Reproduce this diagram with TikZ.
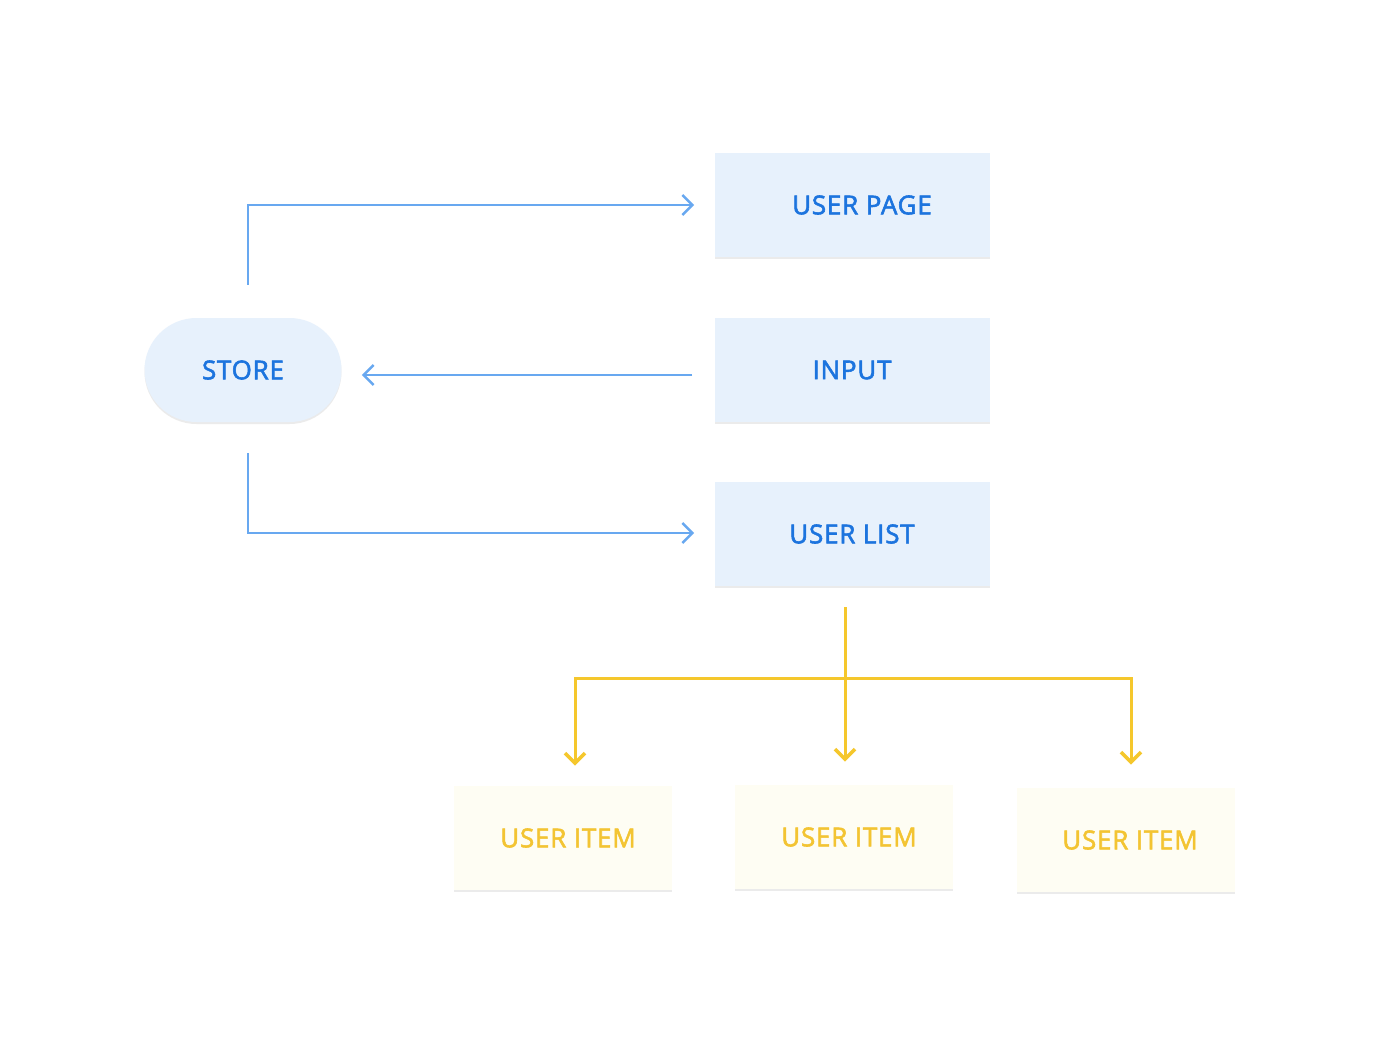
\documentclass[tikz,border=0pt]{standalone}
\usepackage{fontspec}
\setmainfont{Open Sans}
\newfontfamily\boxfont{Open Sans}[FakeBold=2.2, LetterSpace=3]
\usetikzlibrary{arrows.meta, calc, shadows}
\definecolor{boxblue}{HTML}{E7F1FC}
\definecolor{textblue}{HTML}{1C74DE}
\definecolor{lineblue}{HTML}{68A8F0}
\definecolor{boxyellow}{HTML}{FEFDF3}
\definecolor{textyellow}{HTML}{F3C432}
\definecolor{lineyellow}{HTML}{F5C72C}
\tikzset{
    my-box/.style={
        fill=boxblue, text=textblue, inner sep=0pt,
        minimum width=137.5pt, minimum height=52pt,
        font=\boxfont\fontsize{13}{15}\selectfont,
        drop shadow={shadow xshift=0pt, shadow yshift=-1pt, opacity=0.08, fill=black}
    },
    my-store/.style={
        my-box, minimum width=98.5pt, rounded corners=26pt
    },
    my-item/.style={
        my-box, fill=boxyellow, text=textyellow, minimum width=109pt
    },
    my-arrow/.style={
        draw=lineblue, line width=1.2pt, -{Straight Barb[length=5pt, width=10pt]}
    },
    my-yarrow/.style={
        draw=lineyellow, line width=1.5pt, -{Straight Barb[length=5pt, width=10pt, line width=1.8pt]}
    },
}
\begin{document}
\begin{tikzpicture}[x=0.5pt, y=-0.5pt]

        \useasboundingbox[fill=white] (0, 0) rectangle (1400, 1039);

        % STORE AND VIEWS -----------------------------------------------------------------------------

        \node[my-store] (STORE)    at (243, 370)                  {STORE};
        \node[my-box]   (USERPAGE) at (852, 205)                  {\hspace{10pt}USER PAGE};
        \node[my-box]   (INPUT)    at ($(USERPAGE) + (0, 165)$)   {INPUT};
        \node[my-box]   (USERLIST) at ($(INPUT) + (0, 164)$)      {USER LIST};

        % CONNECTOR POINTS - BLUE
        \coordinate (STOREUP)   at ($(STORE.north) + (5, -33)$);
        \coordinate (STOREDOWN) at ($(STORE.south) + (5, 31)$);
        \coordinate (STOREIN)   at ($(STORE.east)  + (20, 5)$);
        \coordinate (PAGEIN)    at ($(USERPAGE.west) + (-20, 0)$);
        \coordinate (INPUTOUT)  at ($(INPUT.west)    + (-22, 5)$);
        \coordinate (LISTIN)    at ($(USERLIST.west) + (-20, -1)$);

        % WIRES - BLUE
        \draw[my-arrow] (STOREUP)   |- (PAGEIN);
        \draw[my-arrow] (INPUTOUT)  -- (STOREIN);
        \draw[my-arrow] (STOREDOWN) |- (LISTIN);

        % USER ITEMS ----------------------------------------------------------------------------------

        \node[my-item] (ITEM1) at (563, 838)                 {\hspace{5pt}USER ITEM};
        \node[my-item] (ITEM2) at ($(ITEM1) + (281, -1)$)    {\hspace{5pt}USER ITEM};
        \node[my-item] (ITEM3) at ($(ITEM1) + (563, 2)$)     {\hspace{4pt}USER ITEM};

        % CONNECTOR POINTS - YELLOW
        \coordinate (LISTOUT)   at ($(USERLIST.south) + (-7, 21)$);
        \coordinate (BRANCH)    at ($(LISTOUT) + (0, 71)$);
        \coordinate (ITEM1IN)   at ($(ITEM1.north) + (12, -20)$);
        \coordinate (ITEM2IN)   at ($(ITEM2.north) + (1, -23)$);
        \coordinate (ITEM3IN)   at ($(ITEM3.north) + (5, -23)$);

        % WIRES - YELLOW
        \draw[my-yarrow] (LISTOUT) -- (LISTOUT |- ITEM2IN);
        \draw[my-yarrow] (BRANCH) -| (ITEM1IN);
        \draw[my-yarrow] (BRANCH) -| (ITEM3IN);

    \end{tikzpicture}
\end{document}
